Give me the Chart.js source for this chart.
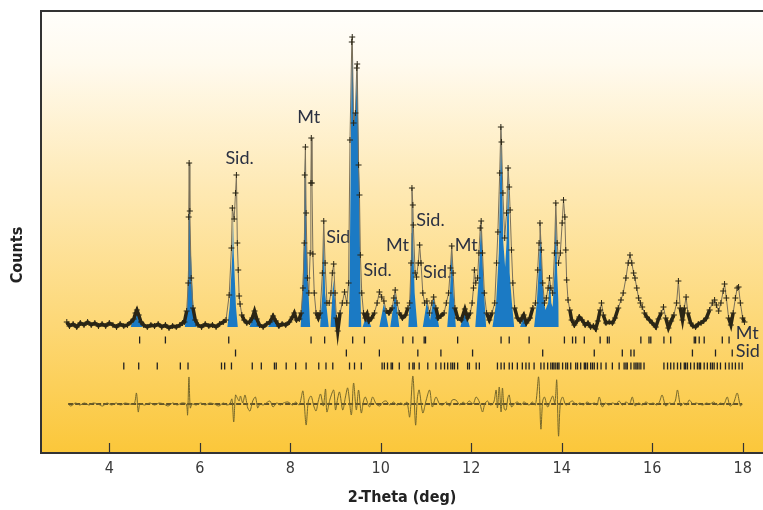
<!DOCTYPE html>
<html>
<head>
<meta charset="utf-8">
<script src="https://cdn.jsdelivr.net/npm/chart.js@4.4.1/dist/chart.umd.min.js"></script>
<style>
  html, body { margin: 0; padding: 0; background: #fff; }
</style>
</head>
<body>
<canvas id="xrd" width="763" height="510"></canvas>
<script>
// x axis tick labels (2-theta, deg)
const xTickValues = [4, 6, 8, 10, 12, 14, 16, 18];

// observed pattern: [2-theta, counts]
const observed = [
  [3.06,131],[3.12,127],[3.20,129],[3.28,126],[3.36,130],[3.44,128],[3.52,131],[3.60,128],[3.68,130],[3.76,127],
  [3.84,129],[3.92,127],[4.00,130],[4.08,128],[4.16,126],[4.24,129],[4.32,127],[4.40,128],[4.48,131],
  [4.54,134],[4.58,140],[4.61,143],[4.65,138],[4.70,131],[4.76,128],
  [4.84,126],[4.92,128],[5.00,127],[5.08,129],[5.16,126],[5.24,128],[5.32,125],[5.40,127],[5.48,126],[5.56,128],[5.62,130],
  [5.66,131],[5.71,142],[5.745,170],[5.755,236],[5.765,290],[5.78,242],[5.81,175],[5.85,145],[5.90,133],[5.96,128],
  [6.04,126],[6.12,129],[6.20,127],[6.28,128],[6.36,126],[6.44,129],[6.52,131],
  [6.58,133],[6.65,158],[6.70,205],[6.72,245],[6.76,234],[6.79,260],[6.81,278],[6.83,210],[6.85,183],[6.87,157],
  [6.89,149],[6.93,138],[6.98,133],[7.04,130],
  [7.10,131],[7.16,135],[7.21,142],[7.26,134],[7.32,128],
  [7.40,126],[7.48,129],[7.55,131],[7.62,137],[7.68,132],[7.75,127],[7.82,129],[7.90,128],[7.98,131],[8.05,136],
  [8.09,140],[8.14,133],[8.20,134],
  [8.24,140],[8.28,165],[8.31,210],[8.32,278],[8.335,306],[8.35,240],[8.38,175],[8.41,160],[8.44,200],[8.455,270],
  [8.465,315],[8.48,270],[8.50,199],[8.53,160],[8.57,140],[8.62,135],
  [8.66,140],[8.71,180],[8.74,232],[8.77,190],[8.81,150],[8.86,150],
  [8.90,160],[8.93,180],[8.96,189],[8.99,160],[9.02,135],[9.05,122],[9.10,140],[9.15,150],[9.20,161],[9.25,150],
  [9.29,170],[9.32,313],[9.36,411],[9.37,416],[9.40,330],[9.44,340],[9.47,385],[9.48,389],[9.51,288],[9.53,258],
  [9.55,198],[9.58,160],[9.62,140],
  [9.66,135],[9.70,139],[9.74,132],[9.80,135],[9.86,140],
  [9.92,150],[9.97,161],[10.02,156],[10.07,152],[10.12,142],[10.18,140],
  [10.25,145],[10.29,155],[10.32,163],[10.36,150],[10.41,140],[10.48,135],[10.55,138],[10.60,145],
  [10.64,150],[10.67,190],[10.69,265],[10.71,248],[10.72,228],[10.76,180],
  [10.79,176],[10.83,190],[10.86,208],[10.89,190],[10.93,160],[10.97,150],[11.02,152],[11.08,140],[11.13,150],
  [11.17,156],[11.22,145],[11.27,135],[11.33,137],[11.40,140],[11.45,150],
  [11.50,160],[11.54,185],[11.57,207],[11.60,180],[11.64,145],[11.70,135],
  [11.78,133],[11.86,144],[11.92,135],
  [11.98,140],[12.02,150],[12.05,165],[12.07,183],[12.10,170],[12.14,175],[12.17,200],[12.20,225],[12.22,232],
  [12.25,200],[12.29,160],[12.34,140],[12.40,133],[12.46,140],
  [12.52,150],[12.56,190],[12.59,221],[12.63,280],[12.655,326],[12.67,311],[12.70,260],[12.74,215],[12.78,240],
  [12.815,285],[12.84,266],[12.86,243],[12.89,203],[12.92,170],[12.96,145],[13.02,135],[13.08,132],[13.16,138],
  [13.22,130],[13.30,135],[13.36,145],
  [13.42,150],[13.47,183],[13.50,210],[13.52,230],[13.55,203],[13.58,170],[13.62,150],[13.66,155],[13.70,165],
  [13.73,175],[13.76,165],[13.80,160],[13.84,200],[13.87,250],[13.90,210],[13.93,190],[13.97,200],[14.01,230],
  [14.04,253],[14.07,236],[14.09,203],[14.11,173],[14.14,153],[14.18,143],[14.22,133],
  [14.28,128],[14.34,132],[14.39,136],[14.45,133],[14.52,128],[14.58,130],[14.64,126],[14.70,127],[14.75,124],
  [14.80,132],[14.85,143],[14.88,150],[14.92,138],[14.98,130],[15.05,131],[15.12,130],[15.18,135],[15.25,145],
  [15.31,153],[15.36,160],[15.42,175],[15.47,190],[15.51,198],[15.55,190],[15.59,180],[15.62,175],[15.66,165],
  [15.70,155],[15.74,150],[15.78,146],[15.83,140],[15.88,136],[15.94,133],[16.00,130],[16.08,126],[16.14,134],
  [16.20,140],[16.25,146],[16.30,135],[16.36,125],[16.42,132],[16.48,138],[16.54,150],[16.58,172],[16.62,145],
  [16.67,133],[16.71,145],[16.75,156],[16.79,140],[16.85,130],[16.90,127],[16.96,126],[17.02,129],[17.08,130],
  [17.14,132],[17.20,135],[17.27,143],[17.33,150],[17.38,153],[17.42,148],[17.47,142],[17.52,150],[17.57,162],
  [17.60,169],[17.64,155],[17.69,135],[17.74,128],[17.79,140],[17.84,155],[17.88,165],[17.91,166],[17.95,150],
  [18.00,135],[18.04,131]
];

// calculated profile (filled blue peaks)
const calculated = [
  [4.47,126],[4.61,141],[4.74,126],
  [5.67,126],[5.72,146],[5.755,213],[5.77,265],[5.79,213],[5.86,146],[5.93,126],
  [6.61,126],[6.66,146],[6.72,200],[6.735,236],[6.75,200],[6.80,146],[6.84,126],
  [7.10,126],[7.21,141],[7.31,126],
  [7.51,126],[7.62,137],[7.73,126],
  [8.23,126],[8.27,163],[8.30,210],[8.33,311],[8.36,210],[8.40,163],[8.44,126],
  [8.66,126],[8.71,160],[8.74,223],[8.77,160],[8.85,126],
  [8.89,126],[8.95,173],[9.04,126],
  [9.29,126],[9.31,161],[9.33,261],[9.35,361],[9.37,415],[9.40,340],[9.44,340],[9.48,386],[9.50,330],[9.53,261],
  [9.55,161],[9.57,126],
  [9.60,126],[9.69,139],[9.79,126],
  [9.97,126],[10.07,150],[10.17,126],
  [10.21,126],[10.32,160],[10.41,126],
  [10.61,126],[10.65,160],[10.68,220],[10.69,265],[10.71,220],[10.75,160],[10.81,126],
  [10.93,126],[11.02,152],[11.09,133],[11.17,156],[11.29,126],
  [11.47,126],[11.53,160],[11.57,205],[11.61,160],[11.66,126],
  [11.76,126],[11.86,144],[11.97,126],
  [12.09,126],[12.16,170],[12.22,235],[12.27,170],[12.33,126],
  [12.47,126],[12.55,150],[12.61,200],[12.66,330],[12.71,210],[12.75,186],[12.78,210],[12.82,285],[12.85,180],
  [12.90,150],[12.95,126],
  [13.08,126],[13.16,137],[13.23,126],
  [13.39,126],[13.45,150],[13.50,190],[13.53,231],[13.56,190],[13.60,155],[13.64,143],[13.70,150],[13.74,175],
  [13.77,150],[13.80,146],[13.84,180],[13.87,250],[13.90,180],[13.93,150],[13.935,126]
];
const calcBase = 126;

// reflection positions for each phase
const mtTicks = [4.67,5.24,6.64,8.46,8.76,9.38,9.64,10.49,10.71,10.96,10.99,11.70,12.66,12.84,13.28,14.06,14.24,
  14.31,14.50,14.85,15.01,15.05,15.75,15.93,15.97,16.26,16.41,16.93,16.96,17.04,17.15,17.55,17.70];
const sidTicks = [6.79,9.24,9.97,10.82,11.33,12.03,13.58,14.72,15.34,15.53,15.60,16.89,17.40,17.77];
const thirdTicks = [4.32,4.65,5.06,5.57,5.74,6.48,6.55,6.70,7.16,7.36,7.65,7.69,7.91,8.12,8.35,8.63,8.79,8.94,
  9.31,9.42,9.57,10.03,10.08,10.15,10.23,10.26,10.41,10.63,10.71,10.74,10.85,11.04,11.22,11.33,11.41,11.48,11.55,
  11.59,11.63,11.70,11.92,11.96,12.11,12.18,12.58,12.66,12.73,12.84,12.91,13.02,13.13,13.21,13.28,13.39,13.54,
  13.61,13.69,13.76,13.80,13.83,13.87,13.91,13.94,14.02,14.09,14.13,14.20,14.31,14.35,14.42,14.50,14.53,14.57,
  14.64,14.68,14.72,14.79,14.87,14.98,15.12,15.27,15.38,15.42,15.45,15.53,15.60,15.64,15.67,15.71,15.75,15.82,
  16.26,16.34,16.41,16.48,16.56,16.63,16.71,16.74,16.78,16.85,16.93,17.00,17.04,17.07,17.15,17.22,17.29,17.33,
  17.37,17.44,17.51,17.62,17.70,17.77,17.84,17.92,17.99];
const mtRow = 113, sidRow = 100, thirdRow = 87;

// difference curve (obs - calc), offset
const difference = [
  [3.09,49],[3.15,47],[3.25,50],[3.35,48],[3.45,50],[3.55,48],[3.65,50],[3.75,49],[3.85,47],[3.95,50],[4.05,48],
  [4.15,50],[4.25,48],[4.35,50],[4.45,49],
  [4.55,49],[4.60,60],[4.64,41],[4.68,49],
  [4.78,48],[4.90,50],[5.00,48],[5.10,50],[5.20,49],[5.30,47],[5.40,50],[5.50,48],[5.60,50],
  [5.70,49],[5.73,38],[5.76,76],[5.79,45],[5.83,49],
  [5.92,48],[6.02,50],[6.12,48],[6.22,50],[6.32,49],[6.42,47],[6.52,50],[6.60,48],
  [6.66,49],[6.71,54],[6.75,31],[6.79,58],[6.83,55],[6.87,52],[6.90,57],[6.95,50],[7.00,58],[7.06,45],[7.11,42],
  [7.17,52],[7.23,56],[7.28,45],[7.33,49],
  [7.40,48],[7.47,50],[7.55,52],[7.62,46],[7.70,50],[7.78,48],[7.85,50],[7.95,51],[8.05,48],[8.12,51],[8.20,48],
  [8.28,62],[8.35,28],[8.40,52],[8.46,57],[8.52,47],[8.57,42],[8.62,52],[8.67,59],[8.73,47],[8.78,64],[8.81,41],
  [8.88,54],[8.96,63],[9.00,43],[9.05,55],[9.09,61],[9.16,43],[9.22,56],[9.27,65],[9.35,38],[9.40,70],[9.46,43],
  [9.51,63],[9.57,40],[9.62,52],[9.66,56],[9.75,46],[9.82,56],[9.90,49],[9.98,47],[10.05,51],[10.12,52],[10.20,48],
  [10.28,51],[10.36,48],[10.44,50],[10.52,48],[10.58,51],
  [10.64,36],[10.71,77],[10.77,28],[10.81,55],[10.85,63],[10.93,40],[11.00,52],[11.08,63],[11.14,46],[11.22,56],
  [11.30,49],[11.37,48],[11.45,51],[11.52,47],[11.58,53],[11.66,53],[11.75,48],[11.82,51],[11.88,49],[11.96,52],
  [12.04,49],[12.11,56],[12.18,51],[12.25,41],[12.30,49],[12.36,52],[12.43,48],[12.50,51],[12.55,63],[12.58,45],
  [12.62,66],[12.66,41],[12.69,65],[12.73,44],[12.77,43],[12.81,55],[12.84,58],[12.89,46],[12.95,49],[13.02,51],
  [13.10,48],[13.16,51],[13.21,50],[13.28,48],[13.35,51],[13.42,48],
  [13.49,76],[13.54,24],[13.58,52],[13.62,56],[13.69,46],[13.75,52],[13.80,57],[13.85,50],[13.89,73],[13.93,17],
  [13.97,50],[14.02,56],[14.09,48],[14.16,50],[14.24,52],[14.32,48],[14.40,50],[14.48,48],[14.56,51],[14.64,49],
  [14.72,50],[14.78,48],[14.83,56],[14.90,46],[14.96,50],[15.04,48],[15.12,50],[15.20,49],[15.27,52],[15.34,48],
  [15.42,51],[15.50,49],[15.56,56],[15.62,47],[15.70,50],[15.78,48],[15.86,51],[15.94,49],[16.02,50],[16.10,48],
  [16.16,51],[16.22,58],[16.30,47],[16.38,50],[16.45,49],[16.51,52],[16.56,63],[16.63,47],[16.70,50],[16.76,48],
  [16.82,53],[16.90,49],[16.97,50],[17.04,49],[17.12,48],[17.20,50],[17.28,49],[17.36,51],[17.44,48],[17.52,50],
  [17.58,48],[17.66,56],[17.72,47],[17.80,50],[17.88,60],[17.95,47],[17.99,49]
];
const diffZero = 49;

// phase labels over the peaks
const peakLabels = [
  { text: 'Sid.', x: 6.88, y: 295 },
  { text: 'Mt', x: 8.41, y: 336 },
  { text: 'Sid.', x: 9.11, y: 216 },
  { text: 'Sid.', x: 9.93, y: 183 },
  { text: 'Mt', x: 10.37, y: 208 },
  { text: 'Sid.', x: 11.10, y: 233 },
  { text: 'Sid.', x: 11.25, y: 181 },
  { text: 'Mt', x: 11.89, y: 208 }
];
const rowLabels = [
  { text: 'Mt', x: 17.85, y: 120 },
  { text: 'Sid', x: 17.85, y: 102 }
];

const labelFont = '"Lato", "Noto Sans", sans-serif';
const axisFont = '"Liberation Sans Narrow", "DejaVu Sans Condensed", "Roboto", sans-serif';

const toPoints = arr => arr.map(p => ({ x: p[0], y: p[1] }));
const toTicks = (arr, row) => arr.map(v => ({ x: v, y: row }));

const backgroundPlugin = {
  id: 'backgroundPlugin',
  beforeDraw(chart) {
    const { ctx, chartArea: { left, top, right, bottom } } = chart;
    ctx.save();
    ctx.fillStyle = '#ffffff';
    ctx.fillRect(0, 0, chart.width, chart.height);
    const grad = ctx.createLinearGradient(0, top, 0, bottom);
    grad.addColorStop(0, '#fffefb');
    grad.addColorStop(0.12, '#fffaee');
    grad.addColorStop(0.4, '#fee9b4');
    grad.addColorStop(0.7, '#fdd878');
    grad.addColorStop(1, '#fbc73a');
    ctx.fillStyle = grad;
    ctx.fillRect(left, top, right - left, bottom - top);
    ctx.restore();
  },
  beforeDatasetsDraw(chart) {
    const { ctx, scales: { x, y } } = chart;
    ctx.save();
    ctx.fillStyle = '#2b3142';
    ctx.font = '18px ' + labelFont;
    ctx.textAlign = 'center';
    ctx.textBaseline = 'middle';
    peakLabels.forEach(l => {
      ctx.fillText(l.text, x.getPixelForValue(l.x), y.getPixelForValue(l.y));
    });
    ctx.textAlign = 'left';
    rowLabels.forEach(l => {
      ctx.fillText(l.text, x.getPixelForValue(l.x), y.getPixelForValue(l.y));
    });
    // y axis title
    ctx.fillStyle = '#222';
    ctx.font = 'bold 16px ' + axisFont;
    ctx.translate(18, 255);
    ctx.rotate(-Math.PI / 2);
    ctx.textAlign = 'center';
    ctx.fillText('Counts', 0, 0);
    ctx.restore();
  },
  afterDraw(chart) {
    const { ctx, chartArea: { left, top, right, bottom }, scales: { x } } = chart;
    ctx.save();
    ctx.strokeStyle = '#333';
    ctx.lineWidth = 2;
    ctx.beginPath();
    ctx.moveTo(right + 2, top);
    ctx.lineTo(left, top);
    ctx.lineTo(left, bottom);
    ctx.lineTo(right + 2, bottom);
    ctx.stroke();
    // inward ticks
    ctx.lineWidth = 1.2;
    ctx.beginPath();
    xTickValues.forEach(v => {
      const px = Math.round(x.getPixelForValue(v)) + 0.5;
      ctx.moveTo(px, bottom);
      ctx.lineTo(px, bottom - 10);
    });
    ctx.stroke();
    ctx.restore();
  }
};

const lowY = 146;

new Chart(document.getElementById('xrd'), {
  type: 'scatter',
  data: {
    datasets: [
      {
        label: 'Observed',
        data: toPoints(observed),
        showLine: true,
        order: 0,
        borderColor: '#7a705a',
        borderWidth: 1,
        pointStyle: 'cross',
        pointRadius: 3,
        pointBorderColor: '#2b2616',
        pointBorderWidth: 1,
        segment: {
          borderWidth: c => (c.p0.parsed.y < lowY && c.p1.parsed.y < lowY) ? 3.5 : 1,
          borderColor: c => (c.p0.parsed.y < lowY && c.p1.parsed.y < lowY) ? '#2b2616' : '#7a705a'
        }
      },
      {
        label: 'Calculated',
        data: toPoints(calculated),
        showLine: true,
        order: 5,
        borderWidth: 0,
        pointRadius: 0,
        backgroundColor: '#1b7ac4',
        fill: { value: calcBase }
      },
      {
        label: 'Mt',
        data: toTicks(mtTicks, mtRow),
        order: 1,
        pointStyle: 'line',
        rotation: 90,
        pointRadius: 3.5,
        borderColor: '#222',
        pointBorderWidth: 1.3
      },
      {
        label: 'Sid',
        data: toTicks(sidTicks, sidRow),
        order: 1,
        pointStyle: 'line',
        rotation: 90,
        pointRadius: 3.5,
        borderColor: '#222',
        pointBorderWidth: 1.3
      },
      {
        label: 'Phase 3',
        data: toTicks(thirdTicks, thirdRow),
        order: 1,
        pointStyle: 'line',
        rotation: 90,
        pointRadius: 3.5,
        borderColor: '#222',
        pointBorderWidth: 1.3
      },
      {
        label: 'Difference',
        data: toPoints(difference),
        showLine: true,
        order: 2,
        borderColor: '#76682c',
        borderWidth: 1,
        pointRadius: 0,
        tension: 0.3
      },
      {
        label: 'Zero',
        data: [{ x: difference[0][0], y: diffZero }, { x: difference[difference.length - 1][0], y: diffZero }],
        showLine: true,
        order: 3,
        borderColor: '#2e2a1a',
        borderWidth: 1.5,
        borderDash: [5, 2],
        pointRadius: 0
      }
    ]
  },
  options: {
    responsive: false,
    animation: false,
    events: [],
    layout: { autoPadding: false, padding: { left: 41, top: 11, right: 0, bottom: 0 } },
    plugins: {
      legend: { display: false },
      tooltip: { enabled: false }
    },
    scales: {
      x: {
        type: 'linear',
        min: 2.49,
        max: 18.45,
        border: { display: false },
        grid: { display: false, drawTicks: false },
        afterBuildTicks: scale => { scale.ticks = xTickValues.map(v => ({ value: v })); },
        afterFit: scale => {
          scale.height = 57;
          scale.paddingLeft = 0;
          scale.paddingRight = 0;
        },
        ticks: {
          color: '#3a3a3a',
          padding: 6,
          maxRotation: 0,
          font: { family: axisFont, size: 16 }
        },
        title: {
          display: true,
          text: '2-Theta (deg)',
          color: '#222',
          padding: { top: 0, bottom: 3 },
          font: { family: axisFont, size: 16, weight: 'bold' }
        }
      },
      y: {
        display: false,
        min: 0,
        max: 442
      }
    }
  },
  plugins: [backgroundPlugin]
});
</script>
</body>
</html>
